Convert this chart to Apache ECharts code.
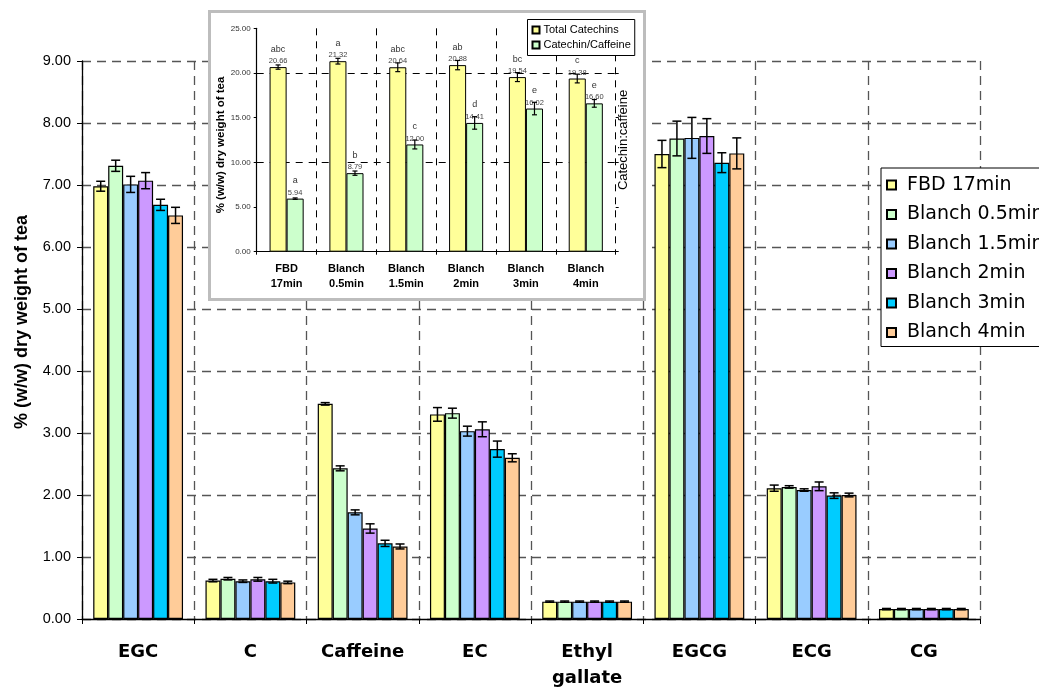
<!DOCTYPE html>
<html>
<head>
<meta charset="utf-8">
<script src="https://cdn.jsdelivr.net/npm/echarts@6/dist/echarts.min.js"></script>
<style>html,body{margin:0;padding:0;background:#fff}#c{width:1039px;height:688px}</style>
</head>
<body>
<div id="c"></div>
<script>
// ---------- main chart data ----------
const categories = ['EGC', 'C', 'Caffeine', 'EC', 'Ethyl\ngallate', 'EGCG', 'ECG', 'CG'];
const seriesNames = ['FBD 17min', 'Blanch 0.5min', 'Blanch 1.5min', 'Blanch 2min', 'Blanch 3min', 'Blanch 4min'];
const fbd17   = [6.98, 0.62, 3.47, 3.30, 0.28, 7.50, 2.11, 0.16];
const blanch05 = [7.31, 0.65, 2.43, 3.32, 0.28, 7.75, 2.13, 0.16];
const blanch15 = [7.01, 0.61, 1.72, 3.03, 0.28, 7.76, 2.08, 0.16];
const blanch2 = [7.07, 0.64, 1.46, 3.06, 0.28, 7.79, 2.14, 0.16];
const blanch3 = [6.68, 0.61, 1.22, 2.74, 0.28, 7.36, 1.99, 0.16];
const blanch4 = [6.51, 0.59, 1.17, 2.60, 0.28, 7.51, 2.00, 0.16];
const fbd17Err   = [0.08, 0.02, 0.02, 0.11, 0.01, 0.22, 0.05, 0.01];
const blanch05Err = [0.09, 0.02, 0.04, 0.08, 0.01, 0.28, 0.02, 0.01];
const blanch15Err = [0.13, 0.02, 0.04, 0.08, 0.01, 0.33, 0.02, 0.01];
const blanch2Err = [0.13, 0.03, 0.075, 0.12, 0.01, 0.28, 0.07, 0.01];
const blanch3Err = [0.09, 0.03, 0.05, 0.13, 0.01, 0.16, 0.045, 0.01];
const blanch4Err = [0.13, 0.02, 0.04, 0.065, 0.01, 0.25, 0.03, 0.01];
const yTicks = [0, 1, 2, 3, 4, 5, 6, 7, 8, 9];

// ---------- inset chart data ----------
const insetCategories = ['FBD\n17min', 'Blanch\n0.5min', 'Blanch\n1.5min', 'Blanch\n2min', 'Blanch\n3min', 'Blanch\n4min'];
const insetNames = ['Total Catechins', 'Catechin/Caffeine'];
const totalCatechins = [20.66, 21.32, 20.64, 20.88, 19.54, 19.38];
const totalErr = [0.24, 0.32, 0.49, 0.52, 0.50, 0.49];
const totalLetters = ['abc', 'a', 'abc', 'ab', 'bc', 'c'];
const ratio = [5.94, 8.79, 12.00, 14.41, 16.02, 16.60];
const ratioErr = [0.08, 0.24, 0.50, 0.70, 0.70, 0.43];
const ratioLetters = ['a', 'b', 'c', 'd', 'e', 'e'];
const insetGridValues = [10, 20];

const colors = ['#FFFF99', '#CCFFCC', '#99CCFF', '#CC99FF', '#00CCFF', '#FFCC99'];
const FONT = "'Liberation Sans', Arial, Helvetica, sans-serif";
const WIDE = "'DejaVu Sans', 'Liberation Sans', sans-serif";

const mainVals = [fbd17, blanch05, blanch15, blanch2, blanch3, blanch4];
const mainErrs = [fbd17Err, blanch05Err, blanch15Err, blanch2Err, blanch3Err, blanch4Err];

const MAIN_GAP = 0.2;
const INSET_GAP = 0.43;

function errorRenderer(idx, n, gap, capHalf, lw) {
  return function (params, api) {
    const x = api.value(0), v = api.value(1), e = api.value(2);
    const c = api.coord([x, v]);
    const catW = api.size([1, 0])[0];
    const barW = catW * (1 - gap) / n;
    const cx = c[0] + (idx - (n - 1) / 2) * barW;
    const yt = api.coord([x, v + e])[1];
    const yb = api.coord([x, v - e])[1];
    const st = { stroke: '#000', lineWidth: lw };
    return {
      type: 'group',
      children: [
        { type: 'line', shape: { x1: cx, y1: yt, x2: cx, y2: yb }, style: st },
        { type: 'line', shape: { x1: cx - capHalf, y1: yt, x2: cx + capHalf, y2: yt }, style: st },
        { type: 'line', shape: { x1: cx - capHalf, y1: yb, x2: cx + capHalf, y2: yb }, style: st }
      ]
    };
  };
}

const series = [];
mainVals.forEach((vals, i) => {
  series.push({
    name: seriesNames[i], type: 'bar', xAxisIndex: 0, yAxisIndex: 0,
    data: vals, barGap: '0%', barCategoryGap: (MAIN_GAP * 100) + '%',
    itemStyle: { color: colors[i], borderColor: '#000', borderWidth: 1.2 },
    z: 2, animation: false
  });
});
mainVals.forEach((vals, i) => {
  series.push({
    type: 'custom', xAxisIndex: 0, yAxisIndex: 0, z: 3, silent: true, animation: false,
    renderItem: errorRenderer(i, 6, MAIN_GAP, 4.5, 1.5),
    data: vals.map((v, k) => [k, v, mainErrs[i][k]])
  });
});

const insetVals = [totalCatechins, ratio];
const insetErrs = [totalErr, ratioErr];
const insetLetters = [totalLetters, ratioLetters];
insetVals.forEach((vals, i) => {
  const s = {
    name: insetNames[i], type: 'bar', xAxisIndex: 1, yAxisIndex: 1,
    data: vals, barGap: '0%', barCategoryGap: (INSET_GAP * 100) + '%',
    itemStyle: { color: colors[i], borderColor: '#000', borderWidth: 1 },
    z: 8, animation: false,
    label: {
      show: true, position: 'top', distance: 1,
      formatter: (p) => '{l|' + insetLetters[i][p.dataIndex] + '}\n{v|' + p.value.toFixed(2) + '}',
      rich: {
        l: { fontSize: 9, color: '#333', lineHeight: 14, fontFamily: FONT },
        v: { fontSize: 7.5, color: '#444', lineHeight: 10, fontFamily: FONT }
      }
    }
  };
  if (i === 0) {
    s.markLine = {
      silent: true, symbol: 'none', z: 7, animation: false,
      label: { show: false },
      lineStyle: { color: '#000', type: [7, 6], width: 1 },
      data: insetGridValues.map(v => ({ yAxis: v }))
    };
  }
  series.push(s);
});
insetVals.forEach((vals, i) => {
  series.push({
    type: 'custom', xAxisIndex: 1, yAxisIndex: 1, z: 9, silent: true, animation: false,
    renderItem: errorRenderer(i, 2, INSET_GAP, 2.5, 1.2),
    data: vals.map((v, k) => [k, v, insetErrs[i][k]])
  });
});

const option = {
  animation: false,
  textStyle: { fontFamily: FONT },
  graphic: [{
    type: 'rect', z: 5, silent: true,
    shape: { x: 209.5, y: 11.5, width: 435, height: 288 },
    style: { fill: '#fff', stroke: '#BDBDBD', lineWidth: 3 }
  }],
  legend: [{
    data: seriesNames, orient: 'vertical', left: 881, top: 168,
    padding: [7, 12, 4, 5], itemWidth: 9, itemHeight: 9, itemGap: 9.5,
    icon: 'rect', backgroundColor: '#fff', borderColor: '#000', borderWidth: 1,
    textStyle: { fontSize: 19, lineHeight: 20, color: '#000', fontFamily: WIDE, padding: [0, 0, 0, 6] },
    z: 4
  }, {
    data: insetNames, orient: 'vertical', left: 527.5, top: 19.5,
    padding: [3, 4, 3, 4], itemWidth: 7, itemHeight: 7, itemGap: 0,
    icon: 'rect', backgroundColor: '#fff', borderColor: '#000', borderWidth: 1,
    textStyle: { fontSize: 11, lineHeight: 15, color: '#000', fontFamily: FONT, padding: [0, 0, 0, -1] },
    z: 10
  }],
  grid: [
    { left: 82, top: 61, width: 898, height: 558, outerBoundsMode: 'none', containLabel: false },
    { left: 256.7, top: 28.3, width: 359, height: 223.4, z: 6, outerBoundsMode: 'none', containLabel: false }
  ],
  xAxis: [{
    type: 'category', gridIndex: 0, data: categories,
    axisLine: { lineStyle: { color: '#000', width: 1.3 } },
    axisTick: { show: true, length: 5, lineStyle: { color: '#000' } },
    axisLabel: { color: '#000', fontSize: 18, fontWeight: 'bold', lineHeight: 26, margin: 20, fontFamily: WIDE, interval: 0 },
    splitLine: { show: true, lineStyle: { color: '#555', type: [9, 6], width: 1.3 } }
  }, {
    type: 'category', gridIndex: 1, data: insetCategories, z: 6,
    axisLine: { lineStyle: { color: '#000', width: 1.2 } },
    axisTick: { show: true, length: 3, lineStyle: { color: '#000' } },
    axisLabel: { color: '#000', fontSize: 11, fontWeight: 'bold', lineHeight: 15, margin: 10, fontFamily: FONT, interval: 0 },
    splitLine: { show: true, lineStyle: { color: '#000', type: [7, 6], width: 1 } }
  }],
  yAxis: [{
    type: 'value', gridIndex: 0, min: 0, max: 9, interval: 1,
    name: '% (w/w) dry weight of tea', nameLocation: 'middle', nameGap: 51,
    nameTextStyle: { fontSize: 18, fontWeight: 'bold', color: '#000', fontFamily: FONT, padding: [0, 0, 0, 36] },
    axisLine: { show: true, lineStyle: { color: '#000', width: 1.3 } },
    axisTick: { show: true, length: 5, lineStyle: { color: '#000' } },
    axisLabel: { color: '#000', fontSize: 14.5, margin: 11, fontFamily: FONT, formatter: v => v.toFixed(2) },
    splitLine: { show: true, lineStyle: { color: '#555', type: [9, 6], width: 1.3 } }
  }, {
    type: 'value', gridIndex: 1, min: 0, max: 25, interval: 5, z: 6,
    name: '% (w/w) dry weight of tea', nameLocation: 'middle', nameGap: 24,
    nameTextStyle: { fontSize: 11.5, fontWeight: 'bold', color: '#000', fontFamily: FONT, padding: [0, 10, 0, 0] },
    axisLine: { show: true, lineStyle: { color: '#000', width: 1.2 } },
    axisTick: { show: true, length: 3, lineStyle: { color: '#000' } },
    axisLabel: { color: '#333', fontSize: 8, margin: 6, fontFamily: FONT, formatter: v => v.toFixed(2) },
    splitLine: { show: false }
  }, {
    type: 'value', gridIndex: 1, min: 0, max: 25, interval: 5, position: 'right', z: 6,
    name: 'Catechin:caffeine', nameLocation: 'middle', nameGap: 1, nameRotate: 90,
    nameTextStyle: { fontSize: 13, color: '#000', fontFamily: FONT },
    axisLine: { show: false },
    axisTick: { show: true, length: 3, lineStyle: { color: '#000' } },
    axisLabel: { show: false },
    splitLine: { show: false }
  }],
  series: series
};

const chart = echarts.init(document.getElementById('c'), null, { renderer: 'canvas' });
chart.setOption(option);
</script>
</body>
</html>
